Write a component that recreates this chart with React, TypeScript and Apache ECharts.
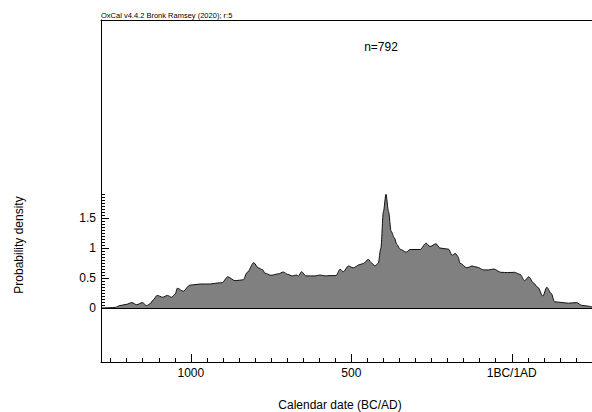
import React, { useEffect, useRef } from "react";
import * as echarts from "echarts";

// Calendar years (BC negative), probability density
const years = [
  -1280, -1252, -1236, -1221, -1202, -1184, -1169, -1151, -1138, -1127, -1118, -1105,
  -1088, -1073, -1060, -1049, -1042, -1024, -1003, -971, -940, -911, -903, -885,
  -862, -837, -824, -804, -790, -777, -769, -750, -727, -712, -698, -684, -670,
  -665, -655, -642, -613, -598, -582, -566, -548, -535, -525, -509, -494, -473,
  -463, -447, -436, -426, -416, -408, -400, -392, -384, -376, -366, -358, -348,
  -329, -317, -286, -267, -255, -236, -224, -197, -186, -176, -168, -161, -140,
  -124, -108, -87, -72, -56, -34, -13, 8, 26, 40, 53, 67, 81, 97, 109, 123, 133,
  150, 176, 202, 218, 239, 250,
];
const density = [
  0.0, 0.005, 0.01, 0.04, 0.06, 0.09, 0.055, 0.09, 0.04, 0.07, 0.13, 0.21,
  0.18, 0.21, 0.18, 0.23, 0.33, 0.28, 0.38, 0.4, 0.4, 0.42, 0.42, 0.52,
  0.455, 0.47, 0.595, 0.755, 0.67, 0.64, 0.58, 0.545, 0.57, 0.6, 0.56, 0.535, 0.55,
  0.53, 0.605, 0.535, 0.535, 0.55, 0.535, 0.54, 0.54, 0.645, 0.605, 0.7, 0.67, 0.725,
  0.74, 0.81, 0.745, 0.7, 0.75, 0.995, 1.605, 1.895, 1.605, 1.28, 1.17, 1.06, 0.98,
  0.93, 0.975, 0.975, 1.08, 1.025, 1.07, 1.0, 0.98, 0.88, 0.91, 0.86, 0.745, 0.67,
  0.7, 0.68, 0.635, 0.635, 0.65, 0.595, 0.59, 0.595, 0.56, 0.455, 0.52, 0.42, 0.345,
  0.2, 0.345, 0.245, 0.105, 0.095, 0.08, 0.09, 0.045, 0.03, 0.02,
];

const xMajorTicks = [-1000, -500, 0];
const xMinorTicks = [
  -1250, -1200, -1150, -1100, -1050, -950, -900, -850, -800, -750, -700, -650,
  -600, -550, -450, -400, -350, -300, -250, -200, -150, -100, -50, 50, 100, 150, 200,
];
const yMajorTicks = [0, 0.5, 1, 1.5];
const yMinorTicks = [
  0.05, 0.1, 0.15, 0.2, 0.25, 0.3, 0.35, 0.4, 0.45, 0.55, 0.6, 0.65, 0.7, 0.75,
  0.8, 0.85, 0.9, 0.95, 1.05, 1.1, 1.15, 1.2, 1.25, 1.3, 1.35, 1.4, 1.45, 1.55,
  1.6, 1.65, 1.7, 1.75, 1.8, 1.85, 1.9,
];

const X_MIN = -1280;
const X_MAX = 250;
const Y_MIN = -0.9;
const Y_MAX = 4.8;

const FONT = "'Liberation Sans', Arial, Helvetica, sans-serif";

export default function App() {
  const ref = useRef<HTMLDivElement>(null);
  useEffect(() => {
    if (!ref.current) return;
    const chart = echarts.init(ref.current, undefined, { renderer: "svg" });
    const data = years.map((y, i) => [y, density[i]]);
    const lineCol = "#000";
    chart.setOption({
      animation: false,
      backgroundColor: "#fff",
      textStyle: { fontFamily: FONT },
      grid: { left: 101, top: 20, right: 0, bottom: 50 },
      xAxis: [
        {
          type: "value",
          min: X_MIN,
          max: X_MAX,
          position: "bottom",
          axisLine: { show: true, onZero: false, lineStyle: { color: lineCol, width: 1 } },
          axisTick: { show: true, inside: true, length: 8, customValues: xMajorTicks, lineStyle: { color: lineCol } },
          axisLabel: {
            show: true,
            customValues: xMajorTicks,
            margin: 5,
            color: "#000",
            fontSize: 12,
            fontFamily: FONT,
            formatter: (v: number) => (v === 0 ? "1BC/1AD" : String(Math.abs(v))),
          },
          splitLine: { show: false },
        },
        {
          type: "value",
          min: X_MIN,
          max: X_MAX,
          position: "bottom",
          axisLine: { show: false, onZero: false },
          axisTick: { show: true, inside: true, length: 4, customValues: xMinorTicks, lineStyle: { color: lineCol } },
          axisLabel: { show: false },
          splitLine: { show: false },
        },
        {
          type: "value",
          min: X_MIN,
          max: X_MAX,
          position: "top",
          axisLine: { show: true, onZero: false, lineStyle: { color: lineCol, width: 1 } },
          axisTick: { show: false },
          axisLabel: { show: false },
          splitLine: { show: false },
        },
      ],
      yAxis: [
        {
          type: "value",
          min: Y_MIN,
          max: Y_MAX,
          position: "left",
          axisLine: { show: true, onZero: false, lineStyle: { color: lineCol, width: 1 } },
          axisTick: { show: true, inside: true, length: 8, customValues: yMajorTicks, lineStyle: { color: lineCol } },
          axisLabel: {
            show: true,
            customValues: yMajorTicks,
            margin: 5,
            color: "#000",
            fontSize: 12,
            fontFamily: FONT,
          },
          splitLine: { show: false },
        },
        {
          type: "value",
          min: Y_MIN,
          max: Y_MAX,
          position: "left",
          axisLine: { show: false, onZero: false },
          axisTick: { show: true, inside: true, length: 4, customValues: yMinorTicks, lineStyle: { color: lineCol } },
          axisLabel: { show: false },
          splitLine: { show: false },
        },
      ],
      series: [
        {
          type: "line",
          xAxisIndex: 0,
          yAxisIndex: 0,
          data,
          showSymbol: false,
          smooth: 0.3,
          smoothMonotone: "x",
          lineStyle: { color: "#111", width: 1 },
          areaStyle: { color: "#808080", opacity: 1 },
          markLine: {
            silent: true,
            symbol: ["none", "none"],
            label: { show: false },
            lineStyle: { color: "#000", type: "solid", width: 1 },
            data: [{ yAxis: 0 }],
          },
          z: 2,
        },
      ],
      graphic: [
        {
          type: "text",
          left: 101,
          top: 11,
          style: { text: "OxCal v4.4.2 Bronk Ramsey (2020); r:5", fontSize: 7.5, fill: "#000", fontFamily: FONT },
        },
        {
          type: "text",
          x: 381,
          y: 47,
          style: { text: "n=792", fontSize: 12, fill: "#000", fontFamily: FONT, align: "center", verticalAlign: "middle" },
        },
        {
          type: "text",
          x: 19,
          y: 245,
          rotation: Math.PI / 2,
          style: { text: "Probability density", fontSize: 12, fill: "#000", fontFamily: FONT, align: "center", verticalAlign: "middle" },
        },
        {
          type: "text",
          x: 340,
          y: 405,
          style: { text: "Calendar date (BC/AD)", fontSize: 12, fill: "#000", fontFamily: FONT, align: "center", verticalAlign: "middle" },
        },
      ],
    });
    return () => chart.dispose();
  }, []);
  return (
    <div
      ref={ref}
      style={{ position: "fixed", left: 0, top: 0, width: 592, height: 412, background: "#fff" }}
    />
  );
}
